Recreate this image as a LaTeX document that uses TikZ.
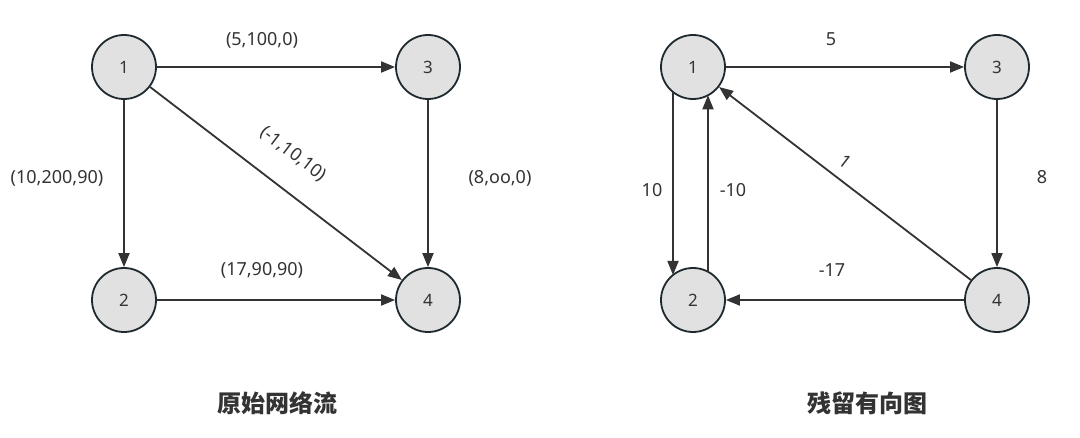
\documentclass[tikz,border=0pt]{standalone}
\usepackage{fontspec}
\setmainfont{Noto Sans}
\newfontfamily\cjk{Noto Sans CJK SC}
\usetikzlibrary{arrows.meta,calc}
\definecolor{ln}{HTML}{333333}
\definecolor{bd}{HTML}{1E2A30}
\definecolor{nf}{HTML}{E1E1E1}
\definecolor{tx}{HTML}{333333}
\begin{document}
\begin{tikzpicture}[x=1pt,y=-1pt,
  vtx/.style={circle,draw=bd,line width=1.8pt,fill=nf,minimum size=64pt,inner sep=0pt,font=\fontsize{17}{20}\selectfont,text=tx},
  edge/.style={draw=ln,line width=1.8pt,-{Triangle[length=14pt,width=11pt]}},
  lbl/.style={font=\fontsize{18}{21}\selectfont,text=tx,inner sep=0pt},
  ttl/.style={font=\cjk\bfseries\fontsize{24}{28}\selectfont,text=tx,inner sep=0pt}]
\useasboundingbox[fill=white] (0,0) rectangle (1080,438);
% left graph
\node[vtx] (l1) at (124,67) {1};
\node[vtx] (l3) at (428,67) {3};
\node[vtx] (l2) at (124,300) {2};
\node[vtx] (l4) at (428,300) {4};
\draw[edge] (l1) -- (l3);
\draw[edge] (l1) -- (l2);
\draw[edge] (l1) -- (l4);
\draw[edge] (l3) -- (l4);
\draw[edge] (l2) -- (l4);
\node[lbl] (la) at (262,40) {(5,100,0)};
\node[lbl] (lb) at (57,178) {(10,200,90)};
\node[lbl] (lc) at (500,178) {(8,oo,0)};
\node[lbl] (ld) at (262,270) {(17,90,90)};
\node[lbl,rotate=-37.5] (le) at (293,154) {(-1,10,10)};
\node[ttl] (t1) at (277,403) {原始网络流};
% right graph
\node[vtx] (r1) at (693,67) {1};
\node[vtx] (r3) at (997,67) {3};
\node[vtx] (r2) at (693,300) {2};
\node[vtx] (r4) at (997,300) {4};
\coordinate (r1a) at ($(r1.center)+(-20,25)$);
\coordinate (r2a) at ($(r2.center)+(-20,-25)$);
\coordinate (r1b) at ($(r1.center)+(15,28.3)$);
\coordinate (r2b) at ($(r2.center)+(15,-28.3)$);
\draw[edge] (r1) -- (r3);
\draw[edge] (r3) -- (r4);
\draw[edge] (r1a) -- (r2a);
\draw[edge] (r2b) -- (r1b);
\draw[edge] (r4) -- (r1);
\draw[edge] (r4) -- (r2);
\node[lbl] (ra) at (831,39) {5};
\node[lbl] (rb) at (652,190) {10};
\node[lbl] (rc) at (733,190) {-10};
\node[lbl] (rd) at (1042,177) {8};
\node[lbl] (re) at (832,270) {-17};
\node[lbl,rotate=-37.5] (rf) at (845,162) {1};
\node[ttl] (t2) at (867,403) {残留有向图};
\end{tikzpicture}
\end{document}
